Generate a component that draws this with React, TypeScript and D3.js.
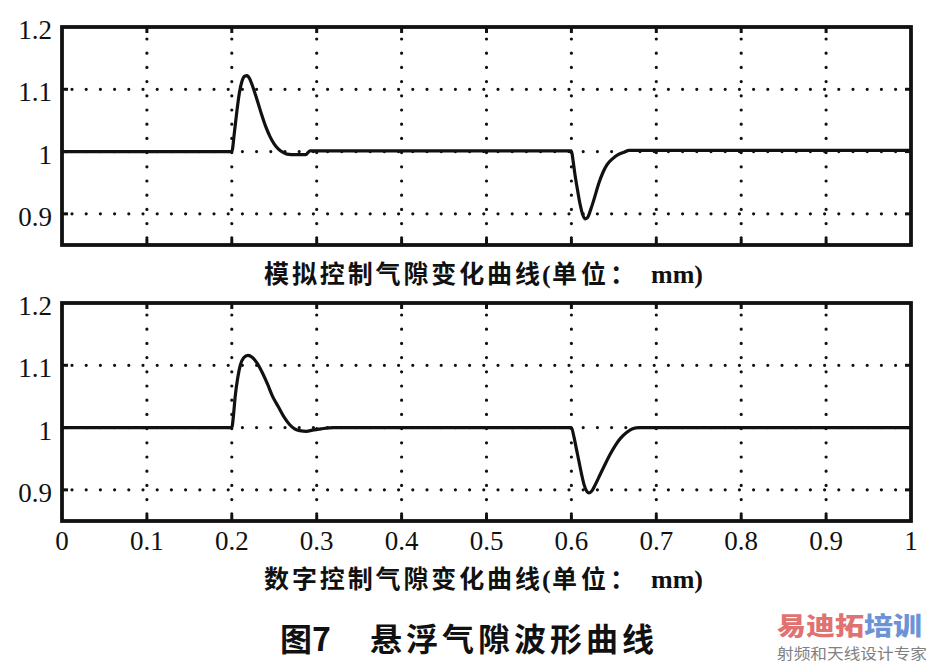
import React from 'react';
import * as d3 from 'd3';

const xTicks = [0, 0.1, 0.2, 0.3, 0.4, 0.5, 0.6, 0.7, 0.8, 0.9, 1];
const xTickLabels = ['0', '0.1', '0.2', '0.3', '0.4', '0.5', '0.6', '0.7', '0.8', '0.9', '1'];
const yTicks = [0.9, 1.0, 1.1, 1.2];
const yTickLabels = ['0.9', '1', '1.1', '1.2'];

const analogX = [0, 0.2, 0.203, 0.206, 0.209, 0.212, 0.215, 0.218, 0.221, 0.225, 0.23, 0.235, 0.24, 0.245, 0.25, 0.255, 0.26, 0.265, 0.275, 0.287, 0.292,
  0.6, 0.602, 0.604, 0.607, 0.61, 0.613, 0.616, 0.619, 0.623, 0.627, 0.632, 0.637, 0.642, 0.648, 0.655, 0.662, 0.668, 1.0];
const analogY = [1.0, 1.0, 1.03, 1.065, 1.095, 1.113, 1.121, 1.122, 1.117, 1.103, 1.082, 1.06, 1.04, 1.024, 1.012, 1.004, 0.999, 0.996, 0.995, 0.995, 1.001,
  1.001, 0.985, 0.965, 0.94, 0.917, 0.9, 0.892, 0.894, 0.908, 0.925, 0.948, 0.966, 0.979, 0.988, 0.995, 0.999, 1.002, 1.002];

const digitalX = [0, 0.2, 0.202, 0.204, 0.207, 0.21, 0.214, 0.219, 0.224, 0.23, 0.236, 0.242, 0.248, 0.255, 0.262, 0.268, 0.274, 0.28, 0.288, 0.295, 0.305, 0.32,
  0.6, 0.603, 0.606, 0.609, 0.612, 0.615, 0.618, 0.621, 0.624, 0.628, 0.634, 0.64, 0.646, 0.652, 0.658, 0.665, 0.672, 0.68, 1.0];
const digitalY = [1.0, 1.0, 1.02, 1.05, 1.08, 1.1, 1.112, 1.116, 1.113, 1.103, 1.088, 1.07, 1.05, 1.033, 1.016, 1.005, 0.998, 0.995, 0.994, 0.996, 0.998, 1.0,
  1.0, 0.985, 0.965, 0.945, 0.925, 0.908, 0.898, 0.895, 0.898, 0.908, 0.925, 0.942, 0.958, 0.972, 0.983, 0.992, 0.998, 1.0, 1.0];

const captionTopName = '模拟控制气隙变化曲线';
const captionBottomName = '数字控制气隙变化曲线';
const captionOpen = '(';
const captionUnitCJK = '单位：';
const captionUnit = 'mm)';
const figNo = '图7';
const figTitle = '悬浮气隙波形曲线';
const wmRed = '易迪拓';
const wmBlue = '培训';
const wmSub = '射频和天线设计专家';

const X0 = 62, X1 = 911;
const xScale = d3.scaleLinear().domain([0, 1]).range([X0, X1]);

function Panel({ top, bottom, xs, ys, showX }: { top: number; bottom: number; xs: number[]; ys: number[]; showX: boolean }) {
  const y = d3.scaleLinear().domain([0.85, 1.2]).range([bottom, top]);
  const pts: [number, number][] = xs.map((v, i) => [v, ys[i]]);
  const line = d3.line<[number, number]>().x(d => xScale(d[0])).y(d => y(d[1])).curve(d3.curveMonotoneX);
  const gridX = xTicks.slice(1, -1);
  const gridY = yTicks.slice(0, -1);
  const dot = { stroke: '#111', strokeWidth: 3.2, strokeLinecap: 'round' as const, strokeDasharray: '0 14.2' };
  return (
    <g>
      {gridX.map(v => (
        <line key={'gx' + v} x1={xScale(v)} x2={xScale(v)} y1={top + 12} y2={bottom - 4} {...dot} />
      ))}
      {gridY.map(v => (
        <line key={'gy' + v} x1={X0 + 10} x2={X1 - 4} y1={y(v)} y2={y(v)} {...dot} />
      ))}
      <path d={line(pts) || ''} fill="none" stroke="#111" strokeWidth={3.2} strokeLinejoin="round" />
      {xTicks.slice(1, -1).map(v => (
        <g key={'tx' + v}>
          <line x1={xScale(v)} x2={xScale(v)} y1={top} y2={top + 6} stroke="#111" strokeWidth={3} />
          <line x1={xScale(v)} x2={xScale(v)} y1={bottom} y2={bottom - 6} stroke="#111" strokeWidth={3} />
        </g>
      ))}
      {gridY.map(v => (
        <g key={'ty' + v}>
          <line x1={X0} x2={X0 + 6} y1={y(v)} y2={y(v)} stroke="#111" strokeWidth={3} />
          <line x1={X1} x2={X1 - 6} y1={y(v)} y2={y(v)} stroke="#111" strokeWidth={3} />
        </g>
      ))}
      <rect x={X0} y={top} width={X1 - X0} height={bottom - top} fill="none" stroke="#111" strokeWidth={3.8} />
      {yTicks.map((v, i) => (
        <text key={'ly' + v} x={52} y={y(v) + 12} textAnchor="end" fontFamily="'Liberation Serif', serif" fontSize={27} fill="#111">{yTickLabels[i]}</text>
      ))}
      {showX && xTicks.map((v, i) => (
        <text key={'lx' + v} x={xScale(v)} y={bottom + 29} textAnchor="middle" fontFamily="'Liberation Serif', serif" fontSize={27} fill="#111">{xTickLabels[i]}</text>
      ))}
    </g>
  );
}

function Caption({ y, name }: { y: number; name: string }) {
  const cjk = "'Noto Sans CJK SC', sans-serif";
  const serif = "'Liberation Serif', serif";
  return (
    <g fill="#111">
      <text x={264} y={y} fontFamily={cjk} fontWeight={700} fontSize={25} textLength={276} lengthAdjust="spacing">{name}</text>
      <text x={542} y={y} fontFamily={serif} fontWeight={700} fontSize={26}>{captionOpen}</text>
      <text x={552} y={y} fontFamily={cjk} fontWeight={700} fontSize={25} letterSpacing={4}>{captionUnitCJK}</text>
      <text x={651} y={y} fontFamily={serif} fontWeight={700} fontSize={26}>{captionUnit}</text>
    </g>
  );
}

export default function App() {
  return (
    <svg width={931} height={666} style={{ position: 'absolute', left: 0, top: 0, background: '#fff' }}>
      <rect x={0} y={0} width={931} height={666} fill="#fff" />
      <Panel top={27} bottom={245} xs={analogX} ys={analogY} showX={false} />
      <Caption y={283} name={captionTopName} />
      <Panel top={303} bottom={521} xs={digitalX} ys={digitalY} showX={true} />
      <Caption y={588} name={captionBottomName} />
      <text x={280} y={651} fontFamily="'Noto Sans CJK SC', sans-serif" fontWeight={700} fontSize={32} fill="#111">{figNo}</text>
      <text x={370} y={651} fontFamily="'Noto Sans CJK SC', sans-serif" fontWeight={700} fontSize={32} letterSpacing={4} fill="#111">{figTitle}</text>
      <text x={777} y={635} fontFamily="'Noto Sans CJK SC', sans-serif" fontWeight={900} fontSize={25} textLength={145} lengthAdjust="spacingAndGlyphs">
        <tspan fill="#e07272">{wmRed}</tspan>
        <tspan fill="#6d93d6">{wmBlue}</tspan>
      </text>
      <text x={777} y={659} fontFamily="'Noto Sans CJK SC', sans-serif" fontWeight={400} fontSize={15} textLength={150} lengthAdjust="spacingAndGlyphs" fill="#808080">{wmSub}</text>
    </svg>
  );
}
